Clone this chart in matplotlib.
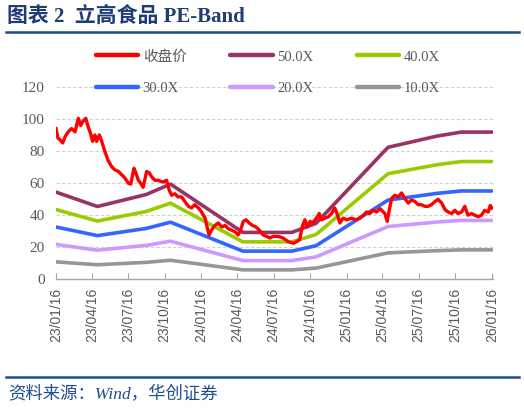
import matplotlib
matplotlib.use("Agg")
import matplotlib.pyplot as plt
import matplotlib.dates as mdates
from matplotlib.lines import Line2D
import pandas as pd

# ---------------- data ----------------
price_dates = [
    "2023-01-16", "2023-01-21", "2023-01-26", "2023-02-02", "2023-02-08", "2023-02-16", "2023-02-24",
    "2023-03-05", "2023-03-13", "2023-03-19", "2023-03-24", "2023-04-01", "2023-04-07", "2023-04-13",
    "2023-04-18", "2023-04-24", "2023-04-28", "2023-05-05", "2023-05-11", "2023-05-19", "2023-05-27",
    "2023-06-05", "2023-06-13", "2023-06-22", "2023-06-30", "2023-07-08", "2023-07-17", "2023-07-23",
    "2023-07-31", "2023-08-05", "2023-08-11", "2023-08-17", "2023-08-23", "2023-09-01", "2023-09-08",
    "2023-09-14", "2023-09-22", "2023-09-30", "2023-10-09", "2023-10-13", "2023-10-21", "2023-10-28",
    "2023-11-03", "2023-11-11", "2023-11-19", "2023-11-28", "2023-12-06", "2023-12-15", "2023-12-23",
    "2023-12-31", "2024-01-09", "2024-01-17", "2024-01-26", "2024-01-31", "2024-02-05", "2024-02-11",
    "2024-02-20", "2024-02-28", "2024-03-08", "2024-03-16", "2024-03-24", "2024-04-02", "2024-04-10",
    "2024-04-18", "2024-04-24", "2024-05-01", "2024-05-08", "2024-05-16", "2024-05-24", "2024-06-02",
    "2024-06-10", "2024-06-20", "2024-06-29", "2024-07-07", "2024-07-15", "2024-07-28", "2024-08-09",
    "2024-08-22", "2024-09-04", "2024-09-12", "2024-09-20", "2024-09-26", "2024-10-03", "2024-10-09",
    "2024-10-16", "2024-10-22", "2024-11-01", "2024-11-08", "2024-11-14", "2024-11-22", "2024-12-01",
    "2024-12-09", "2024-12-17", "2024-12-22", "2024-12-30", "2025-01-07", "2025-01-17", "2025-01-28",
    "2025-02-08", "2025-02-18", "2025-02-27", "2025-03-07", "2025-03-15", "2025-03-24", "2025-04-01",
    "2025-04-10", "2025-04-18", "2025-04-22", "2025-04-28", "2025-05-03", "2025-05-09", "2025-05-17",
    "2025-05-26", "2025-06-03", "2025-06-11", "2025-06-20", "2025-06-28", "2025-07-07", "2025-07-15",
    "2025-07-23", "2025-08-01", "2025-08-09", "2025-08-17", "2025-08-26", "2025-09-03", "2025-09-12",
    "2025-09-20", "2025-09-28", "2025-10-07", "2025-10-15", "2025-10-23", "2025-11-01", "2025-11-09",
    "2025-11-17", "2025-11-26", "2025-12-04", "2025-12-13", "2025-12-21", "2025-12-29", "2026-01-07",
    "2026-01-12", "2026-01-16",
]
close_price = [
    94.2, 88.2, 87.2, 85.2, 89.2, 92.2, 94.2,
    92.2, 100.6, 96.1, 98.6, 100.6, 95.1, 91.2,
    86.2, 90.2, 86.2, 90.2, 86.2, 79.8, 74.3,
    70.4, 68.4, 67.4, 65.4, 63.4, 60.0, 59.5,
    69.4, 66.4, 61.9, 60.0, 57.5, 67.4, 66.4,
    63.9, 61.9, 61.9, 60.9, 60.9, 61.9, 55.5,
    52.5, 53.5, 51.5, 51.5, 48.6, 45.6, 44.6,
    46.6, 44.6, 42.1, 38.2, 32.7, 27.7, 30.7,
    33.7, 35.2, 32.7, 33.7, 31.7, 30.7, 29.7,
    27.7, 30.7, 36.2, 37.2, 35.2, 33.7, 32.7,
    30.7, 27.7, 26.8, 25.8, 26.8, 26.8, 25.8,
    23.5, 22.5, 23.5, 24.8, 32.7, 37.2, 32.7,
    36.2, 35.2, 38.2, 41.1, 37.2, 38.2, 39.1,
    41.1, 44.6, 41.6, 35.2, 38.2, 37.2, 38.2,
    37.2, 38.2, 40.1, 42.1, 41.1, 43.1, 42.1,
    44.1, 42.1, 41.1, 36.2, 43.1, 50.5, 52.5,
    51.5, 54.0, 50.5, 47.6, 49.6, 48.6, 46.6,
    46.6, 45.6, 45.6, 46.6, 48.6, 50.0, 47.6,
    43.6, 42.1, 41.1, 43.1, 41.1, 42.1, 45.6,
    40.1, 41.1, 40.1, 39.1, 40.1, 43.1, 42.1,
    46.1, 44.6,
]

band_dates = ["2023-01-16", "2023-04-30", "2023-08-31", "2023-10-31", "2024-04-30",
              "2024-08-31", "2024-10-31", "2025-04-30", "2025-08-31", "2025-10-31", "2026-01-16"]
pe_50x = [54.5, 45.5, 53.0, 59.5, 29.3, 29.3, 35.0, 82.5, 89.5, 92.0, 92.0]
pe_40x = [43.6, 36.4, 42.4, 47.6, 23.4, 23.4, 28.0, 66.0, 71.6, 73.6, 73.6]
pe_30x = [32.7, 27.3, 31.8, 35.7, 17.6, 17.6, 21.0, 49.5, 53.7, 55.2, 55.2]
pe_20x = [21.8, 18.2, 21.2, 23.8, 11.7, 11.7, 14.0, 33.0, 35.8, 36.8, 36.8]
pe_10x = [10.9, 9.1, 10.6, 11.9, 5.9, 5.9, 7.0, 16.5, 17.9, 18.4, 18.4]

series_labels = ["收盘价", "50.0X", "40.0X", "30.0X", "20.0X", "10.0X"]
tick_dates = ["2023-01-16", "2023-04-16", "2023-07-16", "2023-10-16", "2024-01-16", "2024-04-16",
              "2024-07-16", "2024-10-16", "2025-01-16", "2025-04-16", "2025-07-16", "2025-10-16",
              "2026-01-16"]
tick_labels = ["23/01/16", "23/04/16", "23/07/16", "23/10/16", "24/01/16", "24/04/16",
               "24/07/16", "24/10/16", "25/01/16", "25/04/16", "25/07/16", "25/10/16", "26/01/16"]
y_ticks = [0, 20, 40, 60, 80, 100, 120]

title_text = "图表 2  立高食品 PE-Band"
source_text = "资料来源：Wind，华创证券"

# ---------------- style ----------------
colors = ["#FF0000", "#993366", "#99CC00", "#3366FF", "#CC99FF", "#969696"]
grey_txt = "#595959"
navy = "#1F3C74"
line_blue = "#1F4E8E"
serif_cjk = ["Liberation Serif", "Noto Sans CJK SC"]

W, H = 524, 408
fig = plt.figure(figsize=(W / 100, H / 100), dpi=100)

ax = fig.add_axes([56 / W, 1 - 279.3 / H, (493 - 56) / W, (279.3 - 87.3) / H])

pd_price = pd.to_datetime(price_dates)
pd_band = pd.to_datetime(band_dates)
bands = [pe_50x, pe_40x, pe_30x, pe_20x, pe_10x]

handles = []
h, = ax.plot(pd_price, close_price, color=colors[0], lw=2.4, solid_joinstyle="round", zorder=5)
handles.append(h)
for vals, c in zip(bands, colors[1:]):
    h, = ax.plot(pd_band, vals, color=c, lw=2.6, solid_capstyle="round", zorder=4)
    handles.append(h)

ax.set_ylim(0, 120)
ax.set_xlim(pd.Timestamp("2023-01-16"), pd.Timestamp("2026-01-19"))
ax.set_yticks(y_ticks)
ax.set_xticks(pd.to_datetime(tick_dates))
ax.set_xticklabels(tick_labels, rotation=90, fontsize=10, color=grey_txt,
                   family="Liberation Sans", va="top", ha="center")
for lab in ax.get_yticklabels():
    lab.set_family("Liberation Serif")
    lab.set_fontsize(11)
    lab.set_color(grey_txt)

ax.grid(axis="y", color="#D0D0D0", lw=0.8, ls=(0, (3, 2)))
ax.set_axisbelow(True)
for s in ["left", "right", "top"]:
    ax.spines[s].set_visible(False)
ax.spines["bottom"].set_color("#A6A6A6")
ax.spines["bottom"].set_linewidth(1.0)
ax.tick_params(axis="y", length=0, pad=8)
ax.tick_params(axis="x", direction="in", length=4, color="#A6A6A6", pad=6)

# legend (column-major ordering to show row-major layout)
order = [0, 3, 1, 4, 2, 5]
leg = fig.legend([handles[i] for i in order], [series_labels[i] for i in order],
                 ncol=3, loc="upper left", bbox_to_anchor=(96 / W, 1 - 50 / H),
                 frameon=False, borderpad=0, borderaxespad=0,
                 handlelength=2.9, handletextpad=0.3, columnspacing=3.0,
                 labelspacing=1.25, prop={"family": serif_cjk, "size": 10.5})
for t in leg.get_texts():
    t.set_color(grey_txt)
for lh in leg.get_lines():
    lh.set_linewidth(3.2)
    lh.set_solid_capstyle("round")

# title and rules
fig.text(7 / W, 1 - 17 / H, title_text, family=serif_cjk, fontweight="bold",
         fontsize=15, color=navy, va="center", ha="left")
fig.add_artist(Line2D([6 / W, 519 / W], [1 - 32.3 / H, 1 - 32.3 / H], color=line_blue, lw=1.8))
fig.add_artist(Line2D([6 / W, 519 / W], [1 - 377 / H, 1 - 377 / H], color=line_blue, lw=1.8))
fig.text(8 / W, 1 - 395 / H, source_text, family=serif_cjk, style="italic",
         fontsize=12.5, color=line_blue, va="center", ha="left")

fig.savefig("out.png", dpi=100)
